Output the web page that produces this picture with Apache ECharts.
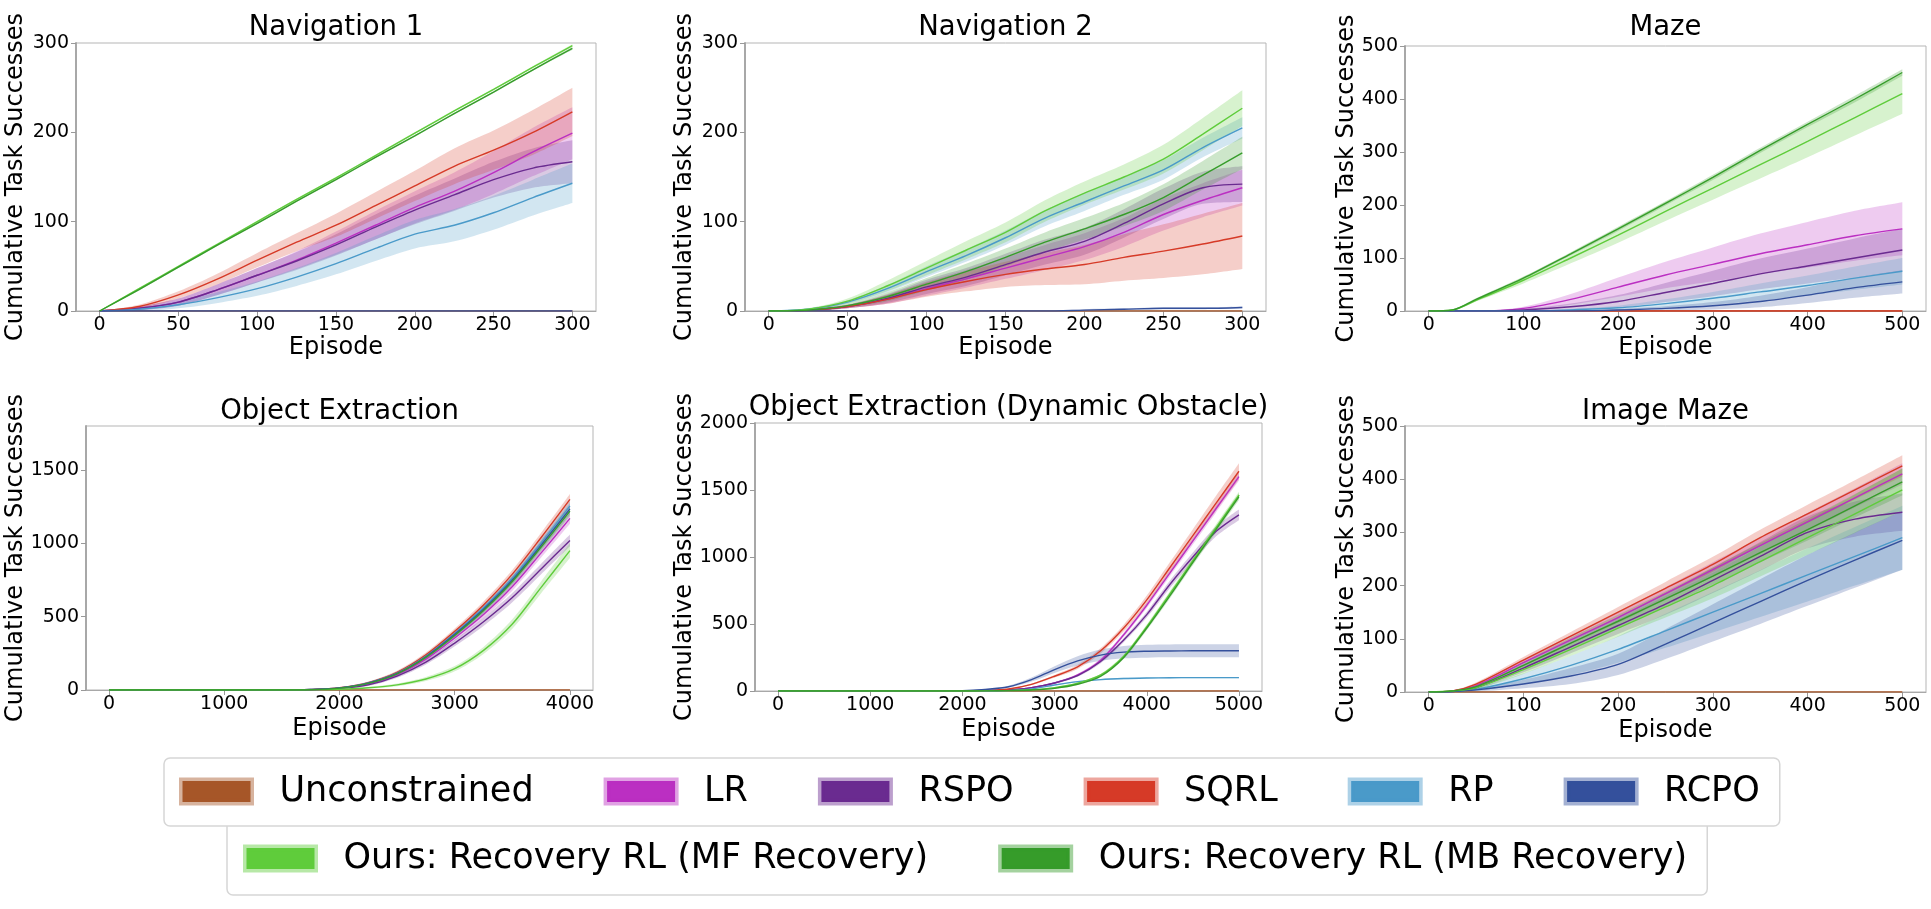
<!DOCTYPE html>
<html>
<head>
<meta charset="utf-8">
<script src="https://cdn.jsdelivr.net/npm/echarts@6/dist/echarts.min.js"></script>
<style>
  html, body { margin: 0; padding: 0; background: #fff; }
  #chart { width: 1931px; height: 909px; }
</style>
</head>
<body>
<div id="chart"></div>
<script>
const FONT = 'DejaVu Sans';

// method order follows the legend
const methods = ['Unconstrained', 'LR', 'RSPO', 'SQRL', 'RP', 'RCPO',
  'Ours: Recovery RL (MF Recovery)', 'Ours: Recovery RL (MB Recovery)'];
const colors = ['#a65628', '#bb2fc2', '#6a2b90', '#d63a27', '#4a9ac9', '#34509c', '#5fcc3b', '#369c2a'];

// Navigation 1
const nav1X = [0, 25, 50, 75, 100, 125, 150, 175, 200, 225, 250, 275, 300];
const nav1Mean = [
  [0, 0, 0, 0, 0, 0, 0, 0, 0, 0, 0, 0, 0],
  [0, 3, 10, 24, 40, 57, 76, 96, 116, 134, 155, 178, 199],
  [0, 3, 10, 24, 40, 56, 74, 94, 113, 130, 147, 160, 167],
  [0, 5, 18, 36, 57, 77, 96, 118, 140, 162, 180, 200, 223],
  [0, 2, 7, 15, 25, 38, 53, 70, 86, 96, 110, 127, 143],
  [0, 0, 0, 0, 0, 0, 0, 0, 0, 0, 0, 0, 0],
  [0, 25, 50, 75, 100, 125, 149, 174, 199, 224, 248, 273, 297],
  [0, 24, 49, 74, 98, 123, 147, 172, 196, 221, 245, 270, 294]
];
const nav1Band = [
  [0, 0, 0, 0, 0, 0, 0, 0, 0, 0, 0, 0, 0],
  [0, 2, 4, 6, 8, 10, 13, 16, 18, 21, 24, 27, 29],
  [0, 2, 4, 6, 8, 10, 12, 14, 16, 18, 20, 22, 24],
  [0, 2, 4, 6, 8, 10, 13, 15, 17, 20, 22, 25, 27],
  [0, 2, 4, 6, 8, 10, 12, 14, 16, 18, 19, 20, 22],
  [0, 0, 0, 0, 0, 0, 0, 0, 0, 0, 0, 0, 0],
  [0, 1, 1, 1, 1, 1, 1, 1, 1, 1, 1, 1, 1.5],
  [0, 1, 1, 1, 1, 1, 1, 1, 1, 1, 1, 1, 1.5]
];

// Navigation 2
const nav2X = [0, 25, 50, 75, 100, 125, 150, 175, 200, 225, 250, 275, 300];
const nav2Mean = [
  [0, 0, 0, 0, 0, 0, 0, 0, 0, 0, 0, 0, 0],
  [0, 1, 5, 13, 25, 36, 48, 60, 72, 88, 108, 124, 138],
  [0, 1, 5, 14, 27, 38, 52, 66, 78, 98, 120, 138, 142],
  [0, 1, 5, 13, 24, 33, 41, 47, 52, 60, 67, 75, 84],
  [0, 2, 10, 25, 44, 62, 82, 104, 122, 140, 158, 183, 205],
  [0, 0, 0, 0, 0, 0, 0, 0, 1, 2, 3, 3, 4],
  [0, 2, 11, 28, 48, 68, 88, 112, 132, 150, 170, 198, 227],
  [0, 1, 6, 16, 30, 44, 60, 77, 92, 108, 127, 152, 177]
];
const nav2Band = [
  [0, 0, 0, 0, 0, 0, 0, 0, 0, 0, 0, 0, 0],
  [0, 1, 2, 5, 8, 10, 12, 14, 15, 16, 18, 19, 20],
  [0, 1, 2, 5, 8, 10, 12, 14, 15, 16, 17, 18, 20],
  [0, 1, 2, 5, 8, 11, 14, 18, 22, 26, 30, 34, 37],
  [0, 1, 2, 4, 6, 7, 8, 9, 10, 10, 11, 11, 12],
  [0, 0, 0, 0, 0, 0, 0, 0, 1, 1, 1, 1, 1],
  [0, 1, 3, 6, 8, 10, 11, 12, 13, 14, 16, 18, 20],
  [0, 1, 2, 5, 7, 9, 10, 11, 12, 13, 15, 16, 18]
];

// Maze
const mazeX = [0, 25, 50, 100, 150, 200, 250, 300, 350, 400, 450, 500];
const mazeMean = [
  [0, 0, 0, 0, 0, 0, 0, 0, 0, 0, 0, 0],
  [0, 0, 0, 5, 22, 45, 68, 88, 108, 125, 142, 155],
  [0, 0, 0, 2, 8, 18, 35, 52, 70, 85, 100, 115],
  [0, 0, 0, 0, 0, 0, 0, 0, 0, 0, 0, 0],
  [0, 0, 0, 0, 2, 6, 14, 24, 36, 48, 62, 75],
  [0, 0, 0, 0, 0, 2, 5, 10, 18, 30, 44, 55],
  [0, 2, 20, 58, 100, 143, 188, 232, 276, 320, 365, 410],
  [0, 2, 22, 62, 108, 155, 203, 252, 303, 352, 400, 450]
];
const mazeBand = [
  [0, 0, 0, 0, 0, 0, 0, 0, 0, 0, 0, 0],
  [0, 0, 0, 3, 10, 18, 25, 32, 38, 43, 47, 50],
  [0, 0, 0, 2, 6, 12, 18, 24, 29, 33, 37, 40],
  [0, 0, 0, 0, 0, 0, 0, 0, 0, 0, 0, 0],
  [0, 0, 0, 0, 2, 4, 8, 12, 16, 19, 22, 25],
  [0, 0, 0, 0, 0, 2, 4, 7, 11, 15, 19, 22],
  [0, 1, 2, 6, 10, 14, 18, 22, 26, 30, 34, 38],
  [0, 1, 2, 3, 3, 4, 4, 5, 5, 5, 6, 6]
];

// Object Extraction
const objX = [0, 500, 1000, 1500, 1750, 2000, 2250, 2500, 2750, 3000, 3250, 3500, 3750, 4000];
const objMean = [
  [0, 0, 0, 0, 0, 0, 0, 0, 0, 0, 0, 0, 0, 0],
  [0, 0, 0, 0, 2, 12, 42, 105, 210, 355, 515, 705, 935, 1170],
  [0, 0, 0, 0, 2, 10, 35, 95, 190, 320, 465, 630, 825, 1020],
  [0, 0, 0, 0, 3, 15, 50, 120, 240, 400, 580, 790, 1040, 1300],
  [0, 0, 0, 0, 3, 14, 48, 115, 230, 385, 560, 762, 1003, 1255],
  [0, 0, 0, 0, 3, 14, 47, 113, 227, 380, 551, 750, 988, 1235],
  [0, 0, 0, 0, 1, 5, 15, 35, 75, 145, 270, 450, 700, 950],
  [0, 0, 0, 0, 2, 13, 45, 110, 222, 372, 542, 740, 975, 1220]
];
const objBand = [
  [0, 0, 0, 0, 0, 0, 0, 0, 0, 0, 0, 0, 0, 0],
  [0, 0, 0, 0, 1, 3, 8, 12, 16, 20, 24, 28, 32, 36],
  [0, 0, 0, 0, 1, 3, 8, 12, 16, 22, 28, 32, 36, 40],
  [0, 0, 0, 0, 1, 3, 8, 12, 16, 20, 24, 28, 32, 36],
  [0, 0, 0, 0, 1, 3, 8, 12, 16, 20, 24, 28, 32, 36],
  [0, 0, 0, 0, 1, 3, 8, 12, 16, 20, 24, 28, 32, 36],
  [0, 0, 0, 0, 1, 2, 5, 9, 14, 18, 24, 32, 40, 50],
  [0, 0, 0, 0, 1, 3, 8, 12, 16, 20, 24, 28, 32, 36]
];

// Object Extraction (Dynamic Obstacle)
const dynX = [0, 1000, 2000, 2250, 2500, 2750, 3000, 3250, 3500, 3750, 4000, 4250, 4500, 4750, 5000];
const dynMean = [
  [0, 0, 0, 0, 0, 0, 0, 0, 0, 0, 0, 0, 0, 0, 0],
  [0, 0, 0, 2, 8, 25, 60, 120, 230, 420, 640, 880, 1120, 1360, 1600],
  [0, 0, 0, 2, 8, 25, 60, 115, 220, 380, 570, 795, 1000, 1190, 1315],
  [0, 0, 0, 3, 15, 50, 110, 180, 300, 470, 680, 920, 1160, 1400, 1640],
  [0, 0, 0, 0, 3, 15, 45, 70, 85, 93, 97, 99, 100, 100, 100],
  [0, 0, 3, 12, 32, 85, 160, 225, 268, 290, 297, 299, 300, 300, 300],
  [0, 0, 0, 1, 3, 9, 25, 58, 120, 260, 480, 725, 972, 1218, 1462],
  [0, 0, 0, 1, 3, 8, 20, 50, 110, 250, 470, 710, 960, 1205, 1450]
];
const dynBand = [
  [0, 0, 0, 0, 0, 0, 0, 0, 0, 0, 0, 0, 0, 0, 0],
  [0, 0, 0, 1, 2, 4, 6, 8, 12, 16, 20, 24, 27, 29, 30],
  [0, 0, 0, 1, 2, 4, 6, 8, 12, 16, 22, 28, 33, 37, 40],
  [0, 0, 0, 1, 3, 6, 10, 15, 20, 25, 32, 40, 48, 55, 60],
  [0, 0, 0, 0, 1, 2, 3, 4, 5, 5, 5, 5, 5, 5, 5],
  [0, 0, 1, 4, 8, 15, 25, 35, 42, 46, 48, 48, 48, 48, 48],
  [0, 0, 0, 0, 1, 2, 3, 5, 8, 12, 16, 19, 22, 24, 25],
  [0, 0, 0, 0, 1, 2, 3, 5, 8, 12, 16, 19, 22, 24, 25]
];

// Image Maze
const imgX = [0, 25, 50, 100, 150, 200, 250, 300, 350, 400, 450, 500];
const imgMean = [
  [0, 0, 0, 0, 0, 0, 0, 0, 0, 0, 0, 0],
  [0, 2, 12, 55, 98, 140, 185, 230, 275, 320, 365, 410],
  [0, 1, 8, 45, 85, 125, 165, 210, 255, 300, 325, 338],
  [0, 2, 15, 60, 105, 150, 195, 240, 290, 335, 380, 425],
  [0, 1, 5, 25, 50, 80, 115, 150, 185, 220, 255, 290],
  [0, 1, 4, 15, 30, 52, 90, 130, 170, 210, 248, 285],
  [0, 2, 8, 42, 80, 120, 160, 200, 245, 290, 335, 380],
  [0, 2, 10, 50, 92, 133, 175, 218, 262, 305, 350, 395]
];
const imgBand = [
  [0, 0, 0, 0, 0, 0, 0, 0, 0, 0, 0, 0],
  [0, 1, 3, 6, 8, 10, 12, 14, 15, 17, 18, 20],
  [0, 1, 3, 8, 12, 16, 20, 24, 27, 30, 33, 35],
  [0, 1, 3, 6, 8, 10, 12, 14, 15, 17, 18, 20],
  [0, 1, 3, 10, 18, 25, 32, 38, 44, 50, 55, 60],
  [0, 1, 3, 8, 15, 20, 28, 35, 42, 48, 52, 55],
  [0, 1, 3, 8, 12, 16, 20, 24, 28, 32, 36, 40],
  [0, 1, 3, 7, 10, 12, 14, 16, 18, 20, 22, 25]
];

// tick values
const ticks300 = [0, 50, 100, 150, 200, 250, 300];
const ticks500 = [0, 100, 200, 300, 400, 500];
const ticks4000 = [0, 1000, 2000, 3000, 4000];
const ticks5000 = [0, 1000, 2000, 3000, 4000, 5000];
const yTicks300 = [0, 100, 200, 300];
const yTicks1800 = [0, 500, 1000, 1500];
const yTicks2000 = [0, 500, 1000, 1500, 2000];

const panels = [
  { title: 'Navigation 1', x: nav1X, mean: nav1Mean, band: nav1Band, xr: [-15, 315], xt: ticks300, yr: [0, 300], yt: yTicks300 },
  { title: 'Navigation 2', x: nav2X, mean: nav2Mean, band: nav2Band, xr: [-15, 315], xt: ticks300, yr: [0, 300], yt: yTicks300 },
  { title: 'Maze', x: mazeX, mean: mazeMean, band: mazeBand, xr: [-25, 525], xt: ticks500, yr: [0, 500], yt: ticks500 },
  { title: 'Object Extraction', x: objX, mean: objMean, band: objBand, xr: [-200, 4200], xt: ticks4000, yr: [0, 1800], yt: yTicks1800 },
  { title: 'Object Extraction (Dynamic Obstacle)', x: dynX, mean: dynMean, band: dynBand, xr: [-250, 5250], xt: ticks5000, yr: [0, 2000], yt: yTicks2000 },
  { title: 'Image Maze', x: imgX, mean: imgMean, band: imgBand, xr: [-25, 525], xt: ticks500, yr: [0, 500], yt: ticks500 }
];

// layout of the six axes boxes
const boxes = [
  { left: 76, top: 43, width: 520, height: 268, yGap: 48, xGap: 25, titleY: 28 },
  { left: 745, top: 43, width: 521, height: 268, yGap: 48, xGap: 25, titleY: 28 },
  { left: 1405, top: 46, width: 521, height: 265, yGap: 46, xGap: 25, titleY: 28 },
  { left: 86, top: 426, width: 507, height: 264, yGap: 58, xGap: 27, titleY: 412 },
  { left: 755, top: 423, width: 507, height: 268, yGap: 58, xGap: 27, titleY: 408 },
  { left: 1405, top: 426, width: 521, height: 266, yGap: 46, xGap: 27, titleY: 412 }
];

function rgba(hex, a) {
  const n = parseInt(hex.slice(1), 16);
  return 'rgba(' + (n >> 16) + ',' + ((n >> 8) & 255) + ',' + (n & 255) + ',' + a + ')';
}

const grids = [], xAxes = [], yAxes = [], series = [], titles = [];
const plainNumber = v => String(v);

panels.forEach((p, k) => {
  const b = boxes[k];
  grids.push({ left: b.left, top: b.top, width: b.width, height: b.height, show: true,
    borderColor: '#b5b5b5', borderWidth: 1, outerBoundsMode: 'none' });
  xAxes.push({
    type: 'value', gridIndex: k, min: p.xr[0], max: p.xr[1],
    name: 'Episode', nameLocation: 'middle', nameGap: b.xGap, nameMoveOverlap: false,
    nameTextStyle: { fontSize: 24, fontFamily: FONT, color: '#000' },
    axisLine: { show: true, onZero: false, lineStyle: { color: '#a8a8a8', width: 1 } },
    axisTick: { show: true, length: 5, customValues: p.xt, lineStyle: { color: '#999' } },
    axisLabel: { customValues: p.xt, formatter: plainNumber, fontSize: 19, fontFamily: FONT, color: '#000', margin: 5 },
    splitLine: { show: false }
  });
  yAxes.push({
    type: 'value', gridIndex: k, min: p.yr[0], max: p.yr[1],
    name: 'Cumulative Task Successes', nameLocation: 'middle', nameGap: b.yGap, nameRotate: 90,
    nameMoveOverlap: false,
    nameTextStyle: { fontSize: 24, fontFamily: FONT, color: '#000' },
    axisLine: { show: true, onZero: false, lineStyle: { color: '#a8a8a8', width: 2 } },
    axisTick: { show: true, length: 5, customValues: p.yt, lineStyle: { color: '#999' } },
    axisLabel: { customValues: p.yt, formatter: plainNumber, fontSize: 19, fontFamily: FONT, color: '#000', margin: 7 },
    splitLine: { show: false }
  });
  titles.push({
    type: 'text', x: b.left + b.width / 2, y: b.titleY,
    style: { text: p.title, fontSize: 27.5, fontFamily: FONT, fill: '#000', align: 'center', verticalAlign: 'middle' }
  });

  methods.forEach((m, i) => {
    const mean = p.mean[i], band = p.band[i];
    const lo = mean.map((v, j) => Math.max(0, v - band[j]));
    const hi = mean.map((v, j) => v + band[j]);
    const common = { type: 'line', xAxisIndex: k, yAxisIndex: k, symbol: 'none', showSymbol: false,
      smooth: 0.3, silent: true, animation: false };
    series.push(Object.assign({}, common, {
      name: m, data: p.x.map((x, j) => [x, mean[j]]),
      lineStyle: { color: colors[i], width: 1.4 }, itemStyle: { color: colors[i] }
    }));
    // band: value first so that the stack runs on the y value
    const stack = 'band' + k + '_' + i;
    series.push(Object.assign({}, common, {
      stack: stack, encode: { x: 1, y: 0 }, data: p.x.map((x, j) => [lo[j], x]),
      lineStyle: { width: 0, opacity: 0 }, itemStyle: { color: colors[i] }
    }));
    series.push(Object.assign({}, common, {
      stack: stack, encode: { x: 1, y: 0 }, data: p.x.map((x, j) => [hi[j] - lo[j], x]),
      lineStyle: { width: 0, opacity: 0 }, itemStyle: { color: colors[i] },
      areaStyle: { color: colors[i], opacity: 0.25 }
    }));
  });
});

const legendItems = methods.map((m, i) => ({
  name: m,
  itemStyle: { color: colors[i], borderColor: rgba(colors[i], 0.45), borderWidth: 7 }
}));

const legendBase = {
  orient: 'horizontal', icon: 'rect', itemWidth: 68, itemHeight: 21, itemGap: 70,
  borderColor: '#d6d6d6', borderWidth: 1.5, borderRadius: 6, backgroundColor: '#fff',
  selectedMode: false,
  textStyle: { fontSize: 35, fontFamily: FONT, color: '#000', padding: [0, 0, 0, 24], lineHeight: 28 }
};

const option = {
  backgroundColor: '#fff',
  animation: false,
  grid: grids,
  xAxis: xAxes,
  yAxis: yAxes,
  legend: [
    Object.assign({}, legendBase, { data: legendItems.slice(0, 6), left: 164, top: 758, padding: [16, 20, 17, 15], z: 6 }),
    Object.assign({}, legendBase, { data: legendItems.slice(6), left: 227, top: 819, padding: [22, 20, 19, 16], z: 5 })
  ],
  graphic: titles,
  series: series
};

const chart = echarts.init(document.getElementById('chart'));
chart.setOption(option);
</script>
</body>
</html>
